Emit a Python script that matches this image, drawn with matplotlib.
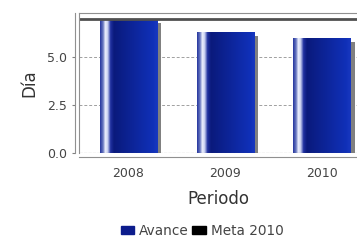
import numpy as np
import matplotlib.pyplot as plt
import matplotlib.patheffects as pe
from matplotlib.colors import LinearSegmentedColormap

periodos = ['2008', '2009', '2010']
avance = [7.0, 6.3, 6.0]
meta_2010 = 7.0

fig = plt.figure(figsize=(3.57, 2.40), dpi=100)
ax = fig.add_axes([0.2213, 0.3625, 0.7787, 0.5833])

x = np.arange(len(periodos))
bars = ax.bar(x, avance, width=0.59, color='#0c1c8c', zorder=2,
              path_effects=[pe.SimplePatchShadow(offset=(3, -3), shadow_rgbFace='#808080', alpha=1.0),
                            pe.Normal()])

grad = LinearSegmentedColormap.from_list('barra', [
    (0.00, '#2838a0'), (0.05, '#6878c0'), (0.09, '#f0f2ff'), (0.13, '#c8d0f0'),
    (0.18, '#2030a0'), (0.24, '#0a1a7c'), (0.92, '#1030b8'), (1.00, '#1838c0')])
strip = np.linspace(0, 1, 200).reshape(1, -1)
for b in bars:
    im = ax.imshow(strip, cmap=grad, aspect='auto', zorder=3,
                   extent=[b.get_x(), b.get_x() + b.get_width(), 0, b.get_height()])
    im.set_clip_path(b)

ax.axhline(meta_2010, color='#505050', lw=2.0, zorder=4)

ax.set_xlim(-0.512, 2.363)
ax.set_ylim(0, 7.3)
ax.set_yticks([0, 2.5, 5.0])
ax.set_yticklabels(['0.0', '2.5', '5.0'])
ax.set_xticks(x)
ax.set_xticklabels(periodos)
ax.yaxis.grid(True, linestyle=(0, (3, 2)), color='#a0a0a0', lw=0.7, zorder=0)
ax.set_axisbelow(True)
ax.tick_params(axis='both', labelsize=9, labelcolor='#444444', color='#808080', length=2)
ax.tick_params(axis='x', length=0, pad=7)

for s in ['left', 'top', 'bottom']:
    ax.spines[s].set_color('#909090')
ax.spines['right'].set_visible(False)
ax.spines['bottom'].set_position(('outward', 3))
ax.spines['left'].set_position(('outward', 3))
ax.axhline(0, color='#606060', lw=0.8, linestyle=(0, (3, 1)), zorder=5)
ax.axvline(-0.512, color='#909090', lw=0.8, zorder=5, clip_on=False)

ax.set_ylabel('Día', fontsize=12, color='#333333', labelpad=6)
ax.set_xlabel('Periodo', fontsize=12, color='#333333', labelpad=7)

h1 = plt.Rectangle((0, 0), 1, 1, color='#0c1c8c')
h2 = plt.Rectangle((0, 0), 1, 1, color='#000000')
fig.legend([h1, h2], ['Avance', 'Meta 2010'], loc='center', bbox_to_anchor=(0.566, 0.0375),
           ncol=2, frameon=False, fontsize=9.8, handlelength=1.0, handleheight=0.5,
           handletextpad=0.35, columnspacing=0.25, labelcolor='#444444')

fig.savefig('out.png', dpi=100)
